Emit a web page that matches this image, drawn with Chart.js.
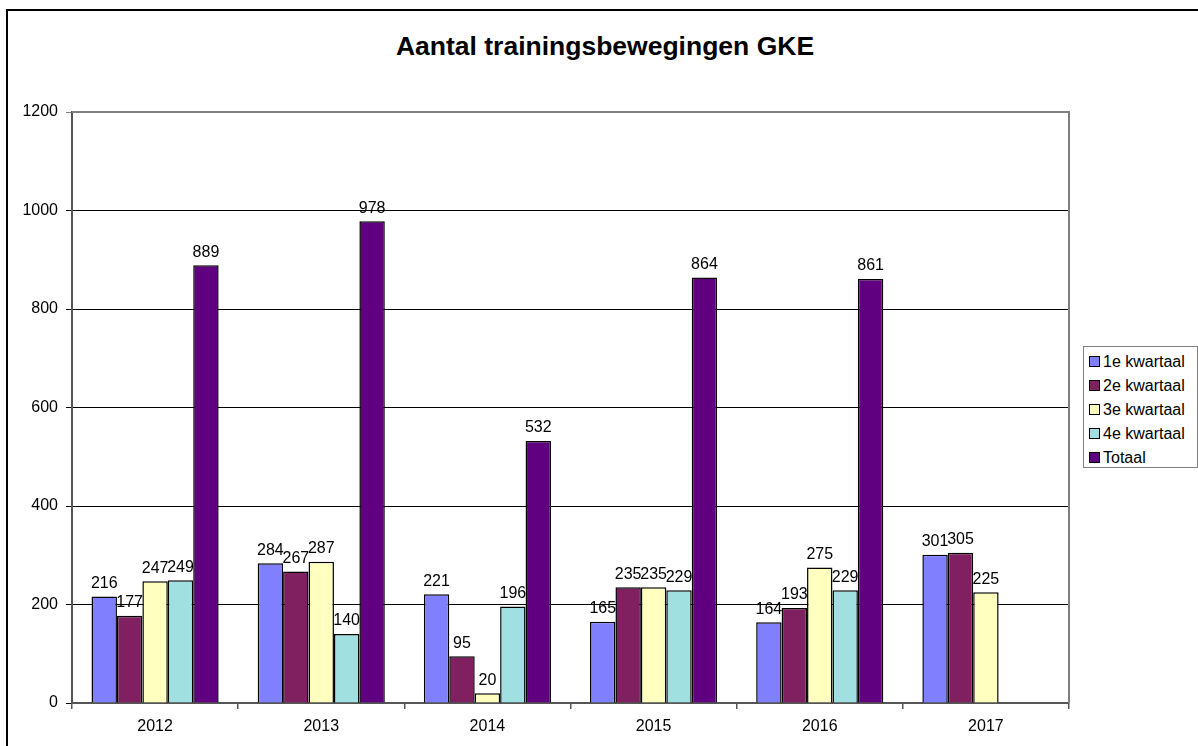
<!DOCTYPE html>
<html>
<head>
<meta charset="utf-8">
<script src="https://cdn.jsdelivr.net/npm/chart.js@4/dist/chart.umd.min.js"></script>
<style>
    body { margin: 0; width: 1198px; height: 746px; overflow: hidden; background: #fff; position: relative; font-family: "Liberation Sans", Arial, sans-serif; }
    #frame { position: absolute; left: 6px; top: 9px; width: 1260px; height: 800px; border: 2px solid #000; box-sizing: border-box; }
    #title { position: absolute; left: 0; width: 1210px; top: 31px; text-align: center; font-weight: bold; font-size: 26.5px; color: #000; }
    #wrap { position: absolute; left: 0; top: 0; width: 1198px; height: 746px; }
    #legend { position: absolute; left: 1083px; top: 346px; width: 115px; height: 122px; border: 1px solid #808080; box-sizing: border-box; background: #fff; padding-top: 3px; }
    .item { height: 24px; line-height: 24px; font-size: 16px; white-space: nowrap; padding-left: 5px; }
    .item span.box { display: inline-block; width: 9px; height: 9px; border: 1px solid #000; margin-right: 3px; vertical-align: 0px; }
</style>
</head>
<body>
<div id="frame"></div>
<div id="title">Aantal trainingsbewegingen GKE</div>
<div id="wrap"><canvas id="chart" width="1198" height="746"></canvas></div>
<div id="legend"></div>
<script>
const years = ['2012', '2013', '2014', '2015', '2016', '2017'];
const seriesNames = ['1e kwartaal', '2e kwartaal', '3e kwartaal', '4e kwartaal', 'Totaal'];
const q1 = [216, 284, 221, 165, 164, 301];
const q2 = [177, 267, 95, 235, 193, 305];
const q3 = [247, 287, 20, 235, 275, 225];
const q4 = [249, 140, 196, 229, 229, null];
const totaal = [889, 978, 532, 864, 861, null];
const colors = ['#8080FF', '#802060', '#FFFFC0', '#A0E0E0', '#600080'];

const allSeries = [q1, q2, q3, q4, totaal];

// legend in html
const legend = document.getElementById('legend');
seriesNames.forEach((name, i) => {
    const div = document.createElement('div');
    div.className = 'item';
    div.innerHTML = '<span class="box" style="background:' + colors[i] + '"></span>' + name;
    legend.appendChild(div);
});

const barLabels = {
    id: 'barLabels',
    afterDatasetsDraw(chart) {
        const ctx = chart.ctx;
        ctx.save();
        ctx.font = '16px "Liberation Sans", Arial, sans-serif';
        ctx.fillStyle = '#000';
        ctx.textAlign = 'center';
        ctx.textBaseline = 'bottom';
        chart.data.datasets.forEach((ds, i) => {
            chart.getDatasetMeta(i).data.forEach((bar, j) => {
                if (ds.data[j] == null) return;
                ctx.fillText(ds.data[j], bar.x, bar.y - 5);
            });
        });
        ctx.restore();
    }
};

const plotBorder = {
    id: 'plotBorder',
    beforeDatasetsDraw(chart) {
        const a = chart.chartArea;
        const ctx = chart.ctx;
        ctx.save();
        ctx.strokeStyle = '#808080';
        ctx.lineWidth = 2;
        ctx.beginPath();
        ctx.moveTo(a.left, a.top);
        ctx.lineTo(a.right, a.top);
        ctx.lineTo(a.right, a.bottom);
        ctx.stroke();
        ctx.restore();
    }
};

new Chart(document.getElementById('chart').getContext('2d'), {
    type: 'bar',
    data: {
        labels: years,
        datasets: allSeries.map((d, i) => ({
            label: seriesNames[i],
            data: d,
            backgroundColor: colors[i],
            borderColor: '#000',
            borderWidth: 1.5,
            categoryPercentage: 0.765,
            barPercentage: 1
        }))
    },
    options: {
        responsive: false,
        animation: false,
        layout: { padding: { left: 0, top: 112, right: 129, bottom: 0 } },
        plugins: {
            legend: { display: false },
            title: { display: false },
            tooltip: { enabled: false }
        },
        scales: {
            x: {
                afterFit: s => { s.height = 43; },
                grid: { offset: true, drawOnChartArea: false, tickLength: 6, color: '#555', lineWidth: 1.5 },
                border: { color: '#555', width: 2 },
                ticks: { color: '#000', font: { size: 16, family: '"Liberation Sans", Arial, sans-serif' }, padding: 8 }
            },
            y: {
                min: 0,
                max: 1200,
                afterFit: s => { s.width = 72; },
                grid: {
                    color: c => c.tick && c.tick.value === 1200 ? '#808080' : '#000',
                    lineWidth: 1,
                    tickLength: 6
                },
                border: { color: '#555', width: 2 },
                ticks: {
                    stepSize: 200,
                    callback: v => String(v),
                    color: '#000',
                    font: { size: 16, family: '"Liberation Sans", Arial, sans-serif' },
                    padding: 8
                }
            }
        }
    },
    plugins: [plotBorder, barLabels]
});
</script>
</body>
</html>
